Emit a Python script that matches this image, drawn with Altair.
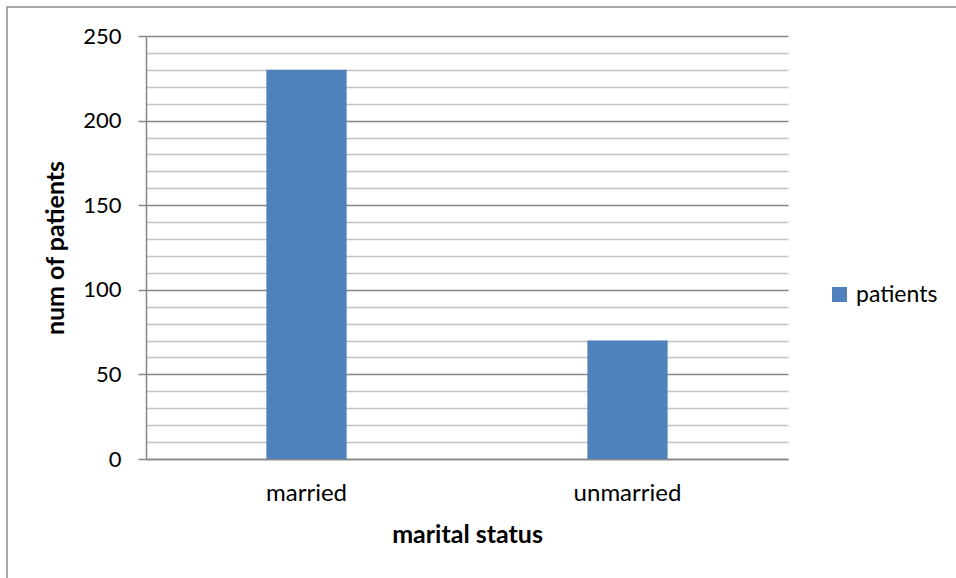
import altair as alt
import pandas as pd

# Patients by marital status
statuses = ["married", "unmarried"]
patients = [230, 70]
series_name = ["patients", "patients"]

# y-axis gridlines every 10, labelled every 50
y_ticks = list(range(0, 251, 10))

df = pd.DataFrame({"status": statuses, "patients": patients, "series": series_name})

FONT = "Lato"
AXIS_GRAY = "#868686"
MINOR_GRAY = "#c3c3c3"
BLUE = "#4f81bd"

bars = alt.Chart(df).mark_bar(color=BLUE).encode(
    x=alt.X(
        "status:N",
        sort=statuses,
        scale=alt.Scale(paddingInner=0.75, paddingOuter=0.375),
        axis=alt.Axis(
            title="marital status",
            titleFont=FONT,
            titleFontSize=25,
            titleFontWeight="bold",
            titleColor="black",
            titlePadding=17,
            labelFont=FONT,
            labelFontSize=24,
            labelColor="black",
            labelPadding=22,
            labelAngle=0,
            ticks=False,
            domainColor=AXIS_GRAY,
            domainWidth=1.5,
            grid=False,
        ),
    ),
    y=alt.Y(
        "patients:Q",
        scale=alt.Scale(domain=[0, 250], nice=False),
        axis=alt.Axis(
            values=y_ticks,
            title="num of patients",
            titleFont=FONT,
            titleFontSize=25,
            titleFontWeight="bold",
            titleColor="black",
            titlePadding=14,
            labelFont=FONT,
            labelFontSize=22,
            labelColor="black",
            labelPadding=17,
            labelExpr="datum.value % 50 === 0 ? datum.label : ''",
            tickSize=8,
            tickWidth=1.5,
            tickColor=alt.condition("datum.value % 50 === 0", alt.value(AXIS_GRAY), alt.value("transparent")),
            domainColor=AXIS_GRAY,
            domainWidth=1.5,
            grid=True,
            gridWidth=1.5,
            gridColor=alt.condition("datum.value % 50 === 0", alt.value(AXIS_GRAY), alt.value(MINOR_GRAY)),
        ),
    ),
    fill=alt.Fill(
        "series:N",
        scale=alt.Scale(domain=["patients"], range=[BLUE]),
        legend=alt.Legend(
            title=None,
            orient="none",
            legendX=682,
            legendY=247,
            symbolType="square",
            symbolSize=225,
            symbolStrokeWidth=0,
            labelFont=FONT,
            labelFontSize=23,
            labelColor="black",
            labelOffset=5,
        ),
    ),
)

# outer frame of the chart area
frame = alt.Chart(pd.DataFrame({"k": [0]})).mark_rect(
    fill="transparent", stroke="#8c8c8c", strokeWidth=1.5
).encode(
    x=alt.value(-139),
    x2=alt.value(830),
    y=alt.value(-29),
    y2=alt.value(600),
)

chart = alt.layer(frame, bars).properties(
    width=642,
    height=423,
    autosize=alt.AutoSizeParams(type="none"),
    padding={"left": 146, "top": 36, "right": 168, "bottom": 119},
    background="white",
).configure_view(stroke=None)

chart.save("out.html", embed_options={"renderer": "svg", "actions": False})
